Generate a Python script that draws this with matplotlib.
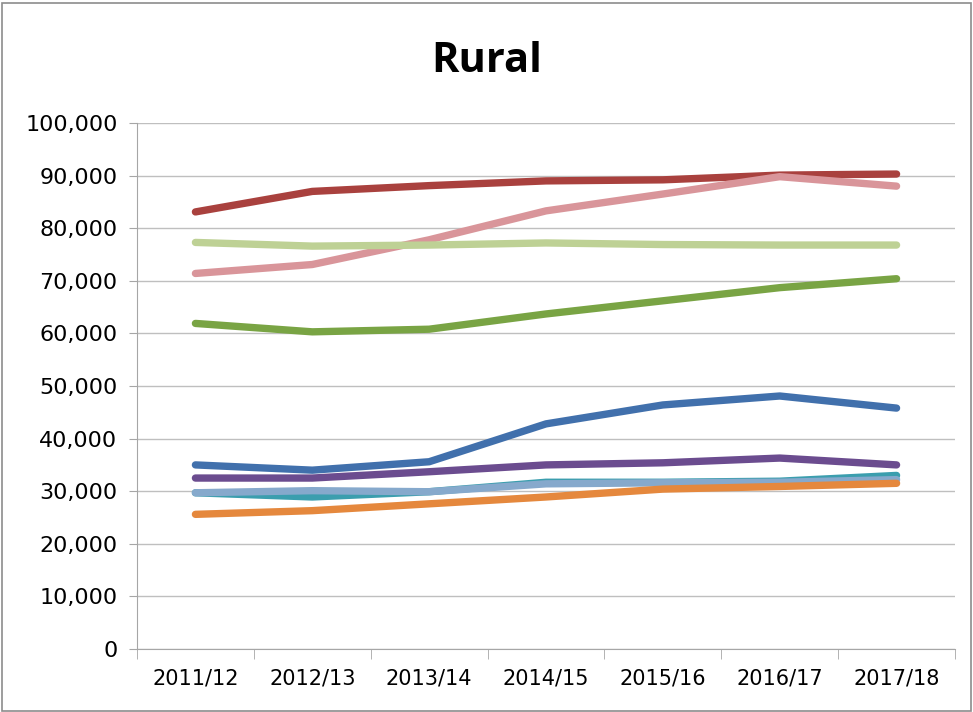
import matplotlib.pyplot as plt
from matplotlib.ticker import FuncFormatter, MultipleLocator, FixedLocator

plt.rcParams['font.family'] = ['Liberation Sans Narrow', 'DejaVu Sans']

anos = ['2011/12', '2012/13', '2013/14', '2014/15', '2015/16', '2016/17', '2017/18']

vermelho = [83100, 87000, 88100, 89000, 89200, 90100, 90300]
rosa = [71400, 73100, 77800, 83300, 86500, 89800, 88000]
verde_claro = [77300, 76600, 76800, 77200, 76900, 76800, 76800]
verde = [61900, 60300, 60800, 63700, 66200, 68700, 70400]
azul = [35000, 34000, 35600, 42800, 46400, 48100, 45800]
roxo = [32500, 32500, 33700, 35000, 35400, 36300, 35000]
ciano = [29700, 28900, 29900, 31700, 31700, 31900, 33000]
azul_claro = [29700, 30100, 29900, 31400, 31600, 31700, 32200]
laranja = [25600, 26300, 27600, 28900, 30400, 30900, 31500]

series = [
    (vermelho, '#A9413E'),
    (rosa, '#D9959A'),
    (verde_claro, '#BED195'),
    (verde, '#79A444'),
    (azul, '#4170AC'),
    (roxo, '#6B4C8F'),
    (ciano, '#3B9EAE'),
    (azul_claro, '#86A9CC'),
    (laranja, '#E5883D'),
]

fig = plt.figure(figsize=(9.73, 7.12), dpi=100)
ax = fig.add_axes([0.1408, 0.0885, 0.8407, 0.7387])

x = list(range(len(anos)))
for valores, cor in series:
    ax.plot(x, valores, color=cor, linewidth=5.3, solid_capstyle='round')

ax.set_xlim(-0.5, len(anos) - 0.5)
ax.set_ylim(0, 100000)
ax.yaxis.set_major_locator(MultipleLocator(10000))
ax.yaxis.set_major_formatter(FuncFormatter(lambda v, p: f'{int(v):,}'))
ax.set_xticks(x)
ax.set_xticklabels(anos)
ax.xaxis.set_minor_locator(FixedLocator([i - 0.5 for i in range(len(anos) + 1)]))
ax.tick_params(axis='x', which='major', length=0, pad=14, labelsize=15)
ax.tick_params(axis='x', which='minor', length=7, color='#A6A6A6')
ax.tick_params(axis='y', length=6, color='#A6A6A6', labelsize=16, pad=8)

ax.grid(True, axis='y', color='#BFBFBF', linewidth=1)
ax.set_axisbelow(True)
for lado in ['top', 'right']:
    ax.spines[lado].set_visible(False)
ax.spines['left'].set_color('#A6A6A6')
ax.spines['bottom'].set_color('#A6A6A6')

fig.text(0.5, 0.913, 'Rural', ha='center', va='center', fontsize=30, fontweight='bold',
         family=['Open Sans', 'DejaVu Sans'])

borda = plt.Rectangle((0.002, 0.002), 0.996, 0.994, transform=fig.transFigure,
                      fill=False, edgecolor='#8C8C8C', linewidth=1.2)
fig.patches.append(borda)

fig.savefig('out.png', dpi=100)
